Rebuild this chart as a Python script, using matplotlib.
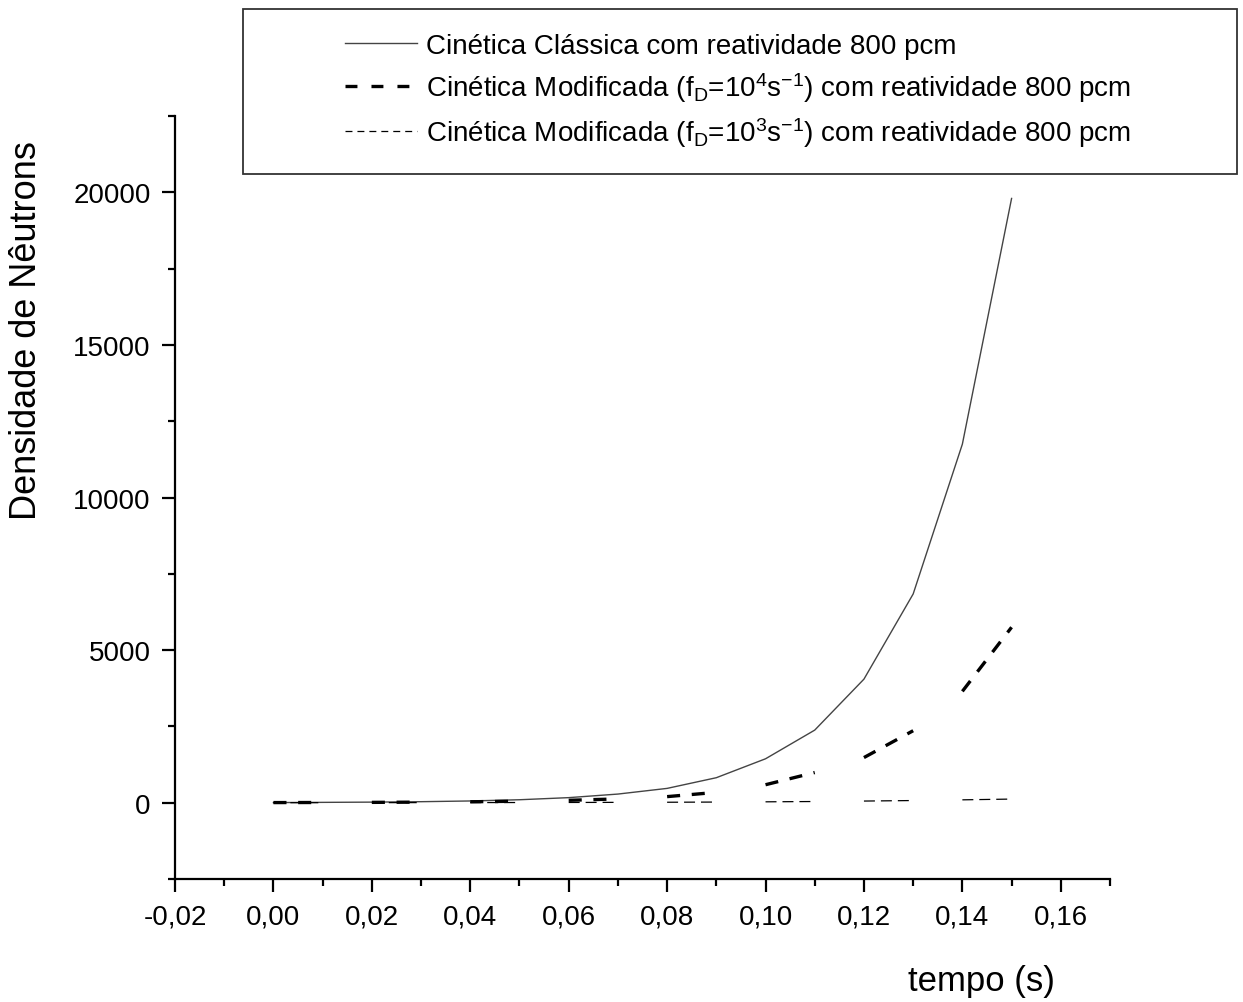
import matplotlib
matplotlib.use("Agg")
import matplotlib.pyplot as plt
from matplotlib.lines import Line2D
from matplotlib.patches import Rectangle
from matplotlib.ticker import MultipleLocator, FuncFormatter

# ------------------------------------------------------------
# dados
# ------------------------------------------------------------
tempo = [0.00, 0.01, 0.02, 0.03, 0.04, 0.05, 0.06, 0.07,
         0.08, 0.09, 0.10, 0.11, 0.12, 0.13, 0.14, 0.15]

classica = [5, 12, 20, 34, 58, 98, 167, 284,
            470, 820, 1440, 2380, 4050, 6840, 11750, 19800]

modificada_1e4 = [5, 8, 12, 20, 32, 50, 80, 125,
                  200, 340, 590, 990, 1480, 2360, 3650, 5750]

modificada_1e3 = [1, 2, 3, 4, 5, 7, 9, 12,
                  16, 22, 30, 40, 55, 72, 95, 120]

labels = [
    "Cinética Clássica com reatividade 800 pcm",
    r"Cinética Modificada ($\mathregular{f_D}$=10$^{4}$s$^{-1}$) com reatividade 800 pcm",
    r"Cinética Modificada ($\mathregular{f_D}$=10$^{3}$s$^{-1}$) com reatividade 800 pcm",
]

# ------------------------------------------------------------
# estilo
# ------------------------------------------------------------
plt.rcParams["font.family"] = ["Liberation Sans", "DejaVu Sans"]
plt.rcParams["mathtext.fontset"] = "custom"
plt.rcParams["mathtext.rm"] = "Liberation Sans"
plt.rcParams["mathtext.it"] = "Liberation Sans:italic"
plt.rcParams["lines.scale_dashes"] = False

fig = plt.figure(figsize=(12.43, 10.03), dpi=100)
ax = fig.add_axes([0.1408, 0.1226, 0.7522, 0.7607])

# curva clássica (contínua)
ax.plot(tempo, classica, color="#444444", linewidth=1.0)

# curvas modificadas: trechos tracejados
for i in range(0, len(tempo) - 1, 2):
    ax.plot(tempo[i:i + 2], modificada_1e4[i:i + 2], color="black",
            linewidth=2.4, dashes=(9.4, 8.4), dash_capstyle="butt")
    ax.plot(tempo[i:i + 2], modificada_1e3[i:i + 2], color="black",
            linewidth=0.9, dashes=(7.9, 4.3), dash_capstyle="butt")

ax.set_xlim(-0.02, 0.17)
ax.set_ylim(-2500, 22500)

ax.spines["top"].set_visible(False)
ax.spines["right"].set_visible(False)
ax.spines["left"].set_linewidth(1.6)
ax.spines["bottom"].set_linewidth(1.6)

ax.xaxis.set_major_locator(MultipleLocator(0.02))
ax.xaxis.set_minor_locator(MultipleLocator(0.01))
ax.yaxis.set_major_locator(MultipleLocator(5000))
ax.yaxis.set_minor_locator(MultipleLocator(2500))

ax.xaxis.set_major_formatter(
    FuncFormatter(lambda v, p: f"{round(v, 2) + 0.0:.2f}".replace(".", ","))
)
ax.yaxis.set_major_formatter(FuncFormatter(lambda v, p: f"{int(round(v))}"))

ax.tick_params(which="major", direction="out", length=9.5, width=1.6,
               labelsize=20, pad=8)
ax.tick_params(which="minor", direction="out", length=5, width=1.6)

# rótulos dos eixos
fig.text(981 / 1243, 1 - 982 / 1003, "tempo (s)", ha="center", va="center",
         fontsize=25)
fig.text(27 / 1243, 1 - 331 / 1003, "Densidade de Nêutrons", ha="center",
         va="center", rotation=90, fontsize=26)

# ------------------------------------------------------------
# legenda
# ------------------------------------------------------------
handles = [
    Line2D([], [], color="#444444", linewidth=1.0),
    Line2D([], [], color="black", linewidth=2.4, dashes=(8.6, 10.1),
           dash_capstyle="butt"),
    Line2D([], [], color="black", linewidth=0.9, dashes=(5.0, 3.6),
           dash_capstyle="butt"),
]

fig.legend(
    handles, labels,
    loc="center left",
    bbox_to_anchor=(345 / 1243, 1 - 92 / 1003),
    frameon=False,
    fontsize=20,
    borderpad=0,
    borderaxespad=0,
    handlelength=2.6,
    handletextpad=0.3,
    labelspacing=0.4,
)

fig.patches.append(
    Rectangle((243 / 1243, 1 - 175 / 1003), 994 / 1243, 165 / 1003,
              transform=fig.transFigure, fill=False, linewidth=1.3,
              edgecolor="#333333")
)

plt.savefig("out.png", dpi=100)
